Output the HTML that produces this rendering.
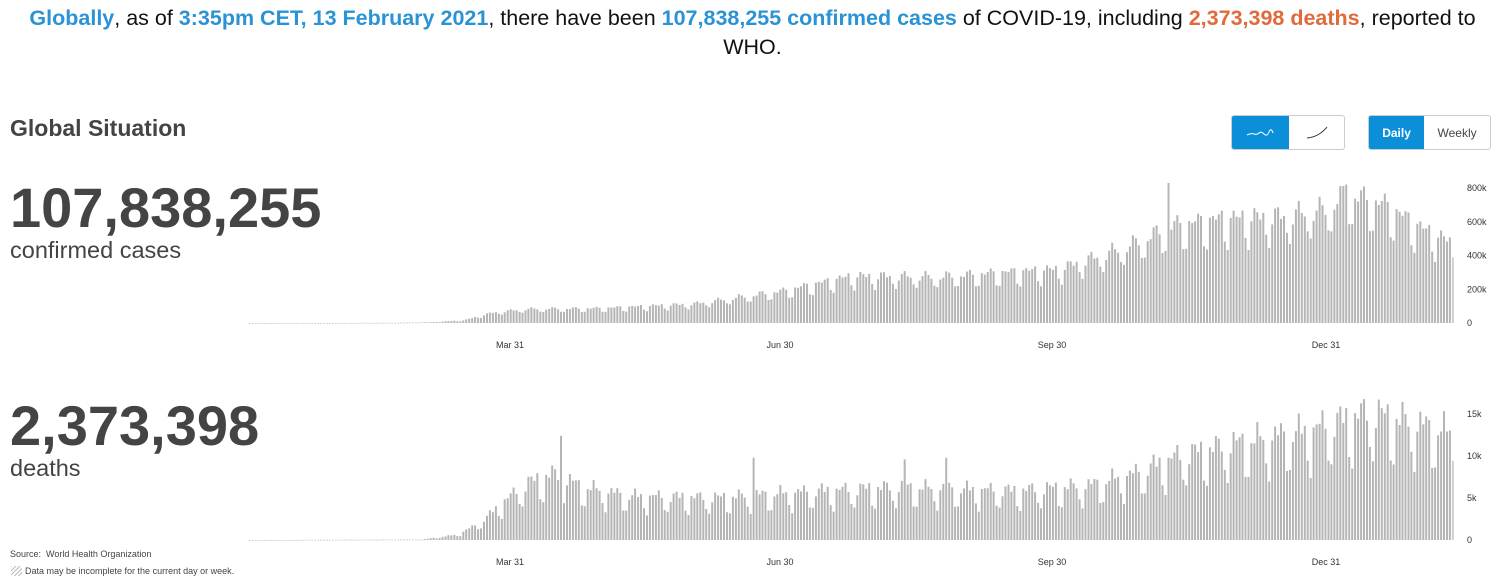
<!DOCTYPE html>
<html><head><meta charset="utf-8"><style>
body{margin:0;width:1505px;height:583px;background:#fff;font-family:"Liberation Sans",Arial,sans-serif;position:relative;overflow:hidden;color:#333}
.hdr{position:absolute;left:0;top:4px;width:1505px;text-align:center;font-size:21.5px;line-height:29px;color:#111}
.b{color:#2a93d5;font-weight:bold}.o{color:#e06a3a;font-weight:bold}
.gs{position:absolute;left:10px;top:115px;font-size:23px;font-weight:bold;color:#444}
.big{position:absolute;left:10px;font-size:56px;font-weight:bold;color:#444;line-height:56px}
.sub{position:absolute;left:10px;font-size:23.5px;color:#444}
.btn{position:absolute;top:115px;height:35px;border:1px solid #ccc;border-radius:3px;box-sizing:border-box;overflow:hidden;display:flex}
.btn div{height:100%;display:flex;align-items:center;justify-content:center;font-size:12px}
.on{background:#0b8fd9;color:#fff;font-weight:bold}
.src{position:absolute;left:10px;font-size:9px;color:#444}
</style></head><body>
<div class="hdr"><span class="b">Globally</span>, as of <span class="b">3:35pm CET, 13 February 2021</span>, there have been <span class="b">107,838,255 confirmed cases</span> of COVID-19, including <span class="o">2,373,398 deaths</span>, reported to<br>WHO.</div>
<div class="gs">Global Situation</div>
<div class="btn" style="left:1231px;width:114px"><div class="on" style="width:58px"><svg width="30" height="10"><path d="M2 7 Q6 5 9 6 T14 5 T19 6 T24 4 T28 5" stroke="#fff" fill="none" stroke-width="1"/></svg></div><div style="width:56px"><svg width="30" height="16"><path d="M6 13 Q18 12 26 2" stroke="#333" fill="none" stroke-width="1"/></svg></div></div>
<div class="btn" style="left:1368px;width:123px"><div class="on" style="width:56px">Daily</div><div style="width:67px;color:#444">Weekly</div></div>
<div class="big" style="top:180px">107,838,255</div>
<div class="sub" style="top:237px">confirmed cases</div>
<div class="big" style="top:398px">2,373,398</div>
<div class="sub" style="top:455px">deaths</div>
<div class="src" style="top:549px">Source:&nbsp; World Health Organization</div>
<div class="src" style="top:566px;left:11px"><span style="display:inline-block;width:11px;height:10px;vertical-align:-2px;background:repeating-linear-gradient(135deg,#bbb 0 1px,#fff 1px 3px);margin-right:3px"></span>Data may be incomplete for the current day or week.</div>
<svg id="c" width="1505" height="583" style="position:absolute;left:0;top:0" font-family="Liberation Sans, Arial, sans-serif" font-size="9" fill="#333"></svg>
<script>
var s=document.getElementById('c'),h='';
function interp(pts,d){for(var i=1;i<pts.length;i++){if(d<=pts[i][0]){var a=pts[i-1],b=pts[i];return a[1]+(b[1]-a[1])*(d-a[0])/(b[0]-a[0]);}}return pts[pts.length-1][1];}
var C=[[0,0],[50,1],[62,4],[74,15],[84,60],[95,80],[120,85],[152,110],[182,185],[205,270],[235,265],[255,290],[275,310],[288,380],[300,450],[314,560],[330,600],[350,610],[365,650],[372,740],[385,680],[398,540],[410,440],[420,420]];
var D=[[0,0],[60,0.05],[72,0.6],[80,2],[88,4.5],[96,6.5],[104,7.5],[115,6],[130,5],[160,4.8],[190,5.5],[220,6],[260,5.6],[285,6.2],[300,7.5],[315,9.5],[335,11],[360,12.5],[380,14.5],[392,13.5],[410,12],[420,12]];
var x0=243,dx=2.963;
function wk(d,amp){var w=(d+3)%7;var f=[1,1.05,1.08,1.06,1.04,0.85,0.8][w];return 1+(f-1)*amp;}
for(var d=2;d<=408;d++){
 var x=x0+d*dx;
 var v=interp(C,d)*wk(d,1.2)*(1+0.06*Math.sin(d*1.7));
 if(d==372)v=820; if(d==312)v=830;
 var hh=v*135/800;
 h+='<rect x="'+x.toFixed(1)+'" y="'+(323-hh).toFixed(1)+'" width="2" height="'+Math.max(hh,0.6).toFixed(1)+'" fill="'+(d==408?'#d0d0d0':'#b5b5b5')+'"/>';
 var u=interp(D,d)*wk(d,1.8)*(1+0.08*Math.sin(d*2.3));
 if(d==107)u=12.4; if(d==172)u=9.8; if(d==223)u=9.6; if(d==237)u=9.8;
 var g=u*126/15;
 h+='<rect x="'+x.toFixed(1)+'" y="'+(540-g).toFixed(1)+'" width="2" height="'+Math.max(g,0.6).toFixed(1)+'" fill="'+(d==408?'#d0d0d0':'#b5b5b5')+'"/>';
}
var xl=[[510,'Mar 31'],[780,'Jun 30'],[1052,'Sep 30'],[1326,'Dec 31']];
xl.forEach(function(l){h+='<text x="'+l[0]+'" y="348" text-anchor="middle">'+l[1]+'</text><text x="'+l[0]+'" y="565" text-anchor="middle">'+l[1]+'</text>';});
['0','200k','400k','600k','800k'].forEach(function(t,i){h+='<text x="1467" y="'+(326-i*33.75).toFixed(1)+'">'+t+'</text>';});
['0','5k','10k','15k'].forEach(function(t,i){h+='<text x="1467" y="'+(543-i*42).toFixed(1)+'">'+t+'</text>';});
s.innerHTML=h;
</script>
</body></html>
